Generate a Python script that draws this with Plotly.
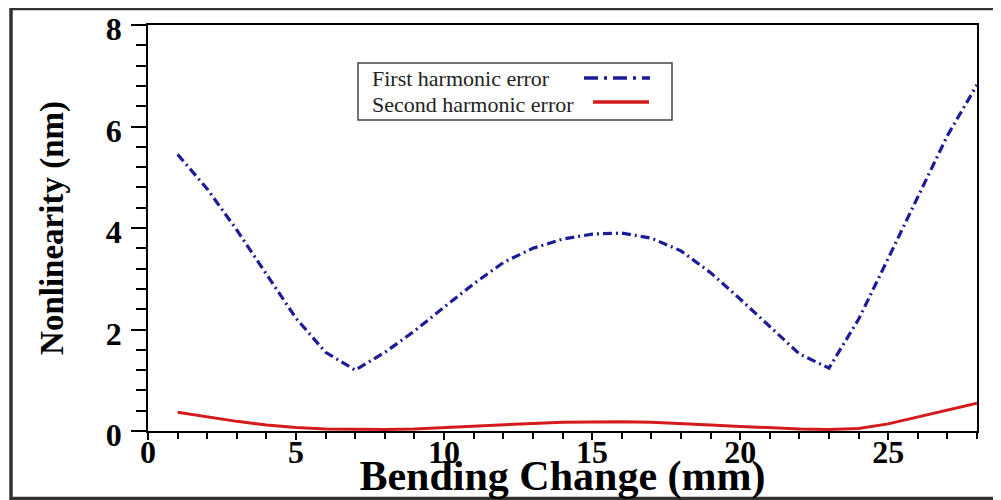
import plotly.graph_objects as go

# ---- data ----
bending_mm = list(range(1, 29))
first_harmonic = [5.45, 4.77, 3.96, 3.08, 2.22, 1.55, 1.20, 1.55, 1.97, 2.44,
                  2.90, 3.32, 3.60, 3.78, 3.88, 3.90, 3.80, 3.55, 3.12, 2.60,
                  2.07, 1.52, 1.24, 2.20, 3.40, 4.60, 5.82, 6.82]
second_harmonic = [0.37, 0.28, 0.19, 0.12, 0.07, 0.04, 0.03, 0.03, 0.04, 0.07,
                   0.10, 0.13, 0.15, 0.17, 0.18, 0.18, 0.17, 0.15, 0.12, 0.09,
                   0.06, 0.04, 0.03, 0.05, 0.14, 0.28, 0.42, 0.55]
series_names = ["First harmonic error", "Second harmonic error"]
x_ticks = [0, 5, 10, 15, 20, 25]
y_ticks = [0, 2, 4, 6, 8]

BLUE = "#1c1c96"
RED = "#d41a1a"
SERIF = "Liberation Serif"
OFF = 8  # page body margin
W, H = 993, 492
L, T = 148 - OFF, 25 - OFF
R = W - (977 - OFF)
B = H - (431 - OFF)
PW, PH = W - L - R, H - T - B


def px(xpage):
    return (xpage - OFF - L) / PW


def py(ypage):
    return (H - B - (ypage - OFF)) / PH


fig = go.Figure()
fig.add_trace(go.Scatter(x=bending_mm, y=first_harmonic, mode="lines",
                         name=series_names[0],
                         line=dict(color=BLUE, width=3.2,
                                   dash="9px,4px,2px,4px")))
fig.add_trace(go.Scatter(x=bending_mm, y=second_harmonic, mode="lines",
                         name=series_names[1],
                         line=dict(color=RED, width=3)))

tickfont = dict(family=SERIF, size=32, color="black", weight=700)

fig.update_layout(
    width=W, height=H,
    margin=dict(l=L, r=R, t=T, b=B, autoexpand=False),
    paper_bgcolor="white", plot_bgcolor="white",
    showlegend=False,
    xaxis=dict(range=[0, 28], tickvals=x_ticks, ticks="outside", ticklen=7,
               tickwidth=1.5, tickcolor="black", showline=True,
               linecolor="black", linewidth=1.5, mirror=True,
               showgrid=False, zeroline=False, tickfont=tickfont,
               automargin=False, ticklabelstandoff=-15,
               minor=dict(dtick=1, ticks="outside", ticklen=6,
                          tickwidth=1.5, tickcolor="black", showgrid=False),
               title=dict(text="Bending Change (mm)", standoff=18,
                          font=dict(family=SERIF, size=42, color="black",
                                    weight=700))),
    yaxis=dict(range=[0, 8], tickvals=y_ticks, ticks="outside", ticklen=15,
               tickwidth=1.5, tickcolor="black", showline=True,
               linecolor="black", linewidth=1.5, mirror=True,
               showgrid=False, zeroline=False, tickfont=tickfont,
               ticklabelshift=4, ticklabelstandoff=3, automargin=False,
               minor=dict(dtick=0.4, ticks="outside", ticklen=10,
                          tickwidth=1.5, tickcolor="black", showgrid=False),
               title=dict(text="Nonlinearity (nm)", standoff=32,
                          font=dict(family=SERIF, size=33, color="black",
                                    weight=700))),
)

shapes = [
    # outer frame of the picture
    dict(type="rect", xref="paper", yref="paper",
         x0=px(11), x1=px(1015), y0=py(498.5), y1=py(8.5),
         line=dict(color="#333333", width=3.5)),
    # legend box
    dict(type="rect", xref="paper", yref="paper",
         x0=px(358), x1=px(672), y0=py(120), y1=py(63),
         line=dict(color="#444444", width=1.5), fillcolor="white"),
    dict(type="line", xref="paper", yref="paper",
         x0=px(584), x1=px(650), y0=py(78), y1=py(78),
         line=dict(color=BLUE, width=3.5, dash="14px,6px,3px,6px")),
    dict(type="line", xref="paper", yref="paper",
         x0=px(593), x1=px(649), y0=py(102), y1=py(102),
         line=dict(color=RED, width=3.5)),
]
annotations = [
    dict(text=series_names[0], xref="paper", yref="paper", x=px(370),
         y=py(79), xanchor="left", yanchor="middle", showarrow=False,
         font=dict(family=SERIF, size=22, color="#222222")),
    dict(text=series_names[1], xref="paper", yref="paper", x=px(370),
         y=py(105), xanchor="left", yanchor="middle", showarrow=False,
         font=dict(family=SERIF, size=22, color="#222222")),
]
fig.update_layout(shapes=shapes, annotations=annotations)

fig.write_html("out.html")
